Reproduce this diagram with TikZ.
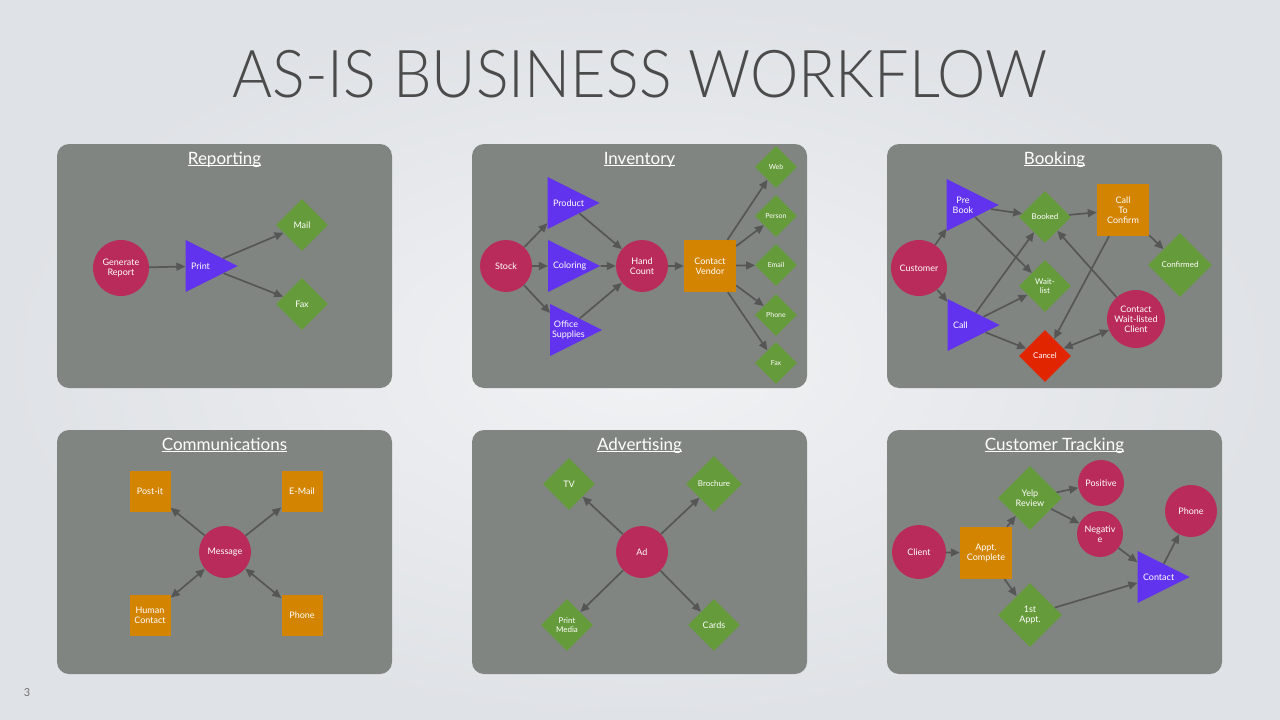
\documentclass[tikz,border=0pt]{standalone}
\usepackage{fontspec}
\setmainfont{Lato}
\newfontfamily\thinfont{Lato Light}
\usepackage{tikz}
\usetikzlibrary{shapes,arrows.meta}
\usetikzlibrary{shapes.geometric}

\definecolor{bgin}{HTML}{F1F2F4}
\definecolor{bgout}{HTML}{DFE2E6}
\definecolor{boxgray}{HTML}{808582}
\definecolor{titlegray}{HTML}{4B4B4B}
\definecolor{arrowgray}{HTML}{565656}
\definecolor{berry}{HTML}{B92B5B}
\definecolor{violet}{HTML}{6233EE}
\definecolor{leaf}{HTML}{659B3A}
\definecolor{amber}{HTML}{D38400}
\definecolor{alarm}{HTML}{E12500}

\begin{document}
\begin{tikzpicture}[x=1pt,y=-1pt]
\tikzstyle{flow}=[line width=1.7pt,draw=arrowgray,-{Triangle[length=9pt,width=8pt]}];
\tikzstyle{flowboth}=[line width=1.7pt,draw=arrowgray,{Triangle[length=9pt,width=8pt]}-{Triangle[length=9pt,width=8pt]}];
\tikzstyle{base}=[text=white,inner sep=0pt,align=center,font=\fontsize{9}{10}\selectfont];
\tikzstyle{circ}=[base,circle,fill=berry,minimum size=52pt];
\tikzstyle{diam}=[base,diamond,fill=leaf,minimum size=52pt];
\tikzstyle{sq}=[base,rectangle,fill=amber,minimum size=52pt];
\tikzstyle{tri}=[base,isosceles triangle,isosceles triangle stretches,fill=violet,minimum width=52pt,minimum height=52pt,text width=28pt,align=left];
\tikzstyle{head}=[text=white,inner sep=0pt,anchor=base,font=\fontsize{17}{19}\selectfont];
\def\tinyfont{\fontsize{7}{8}\selectfont}

\useasboundingbox (0,0) rectangle (1280,720);
\shade[inner color=bgin,outer color=bgout] (0,0) rectangle (1280,720);

\node[anchor=base,text=titlegray,inner sep=0pt,xscale=0.926,transform shape,font=\thinfont\fontsize{66}{70}\selectfont] (title) at (640,97) {AS-IS BUSINESS WORKFLOW};
\node[text=titlegray!80,font=\fontsize{11}{12}\selectfont] (pagenum) at (27,693) {3};

% panels
\foreach \px/\py in {57/144,472/144,887/144,57/430,472/430,887/430}
  \fill[boxgray,rounded corners=12pt] (\px,\py) rectangle ++(335,244);

\node[head] (hrep) at (224.5,164) {Reporting};
\node[head] (hinv) at (639.5,164) {Inventory};
\node[head] (hbook) at (1054.5,164) {Booking};
\node[head] (hcom) at (224.5,450) {Communications};
\node[head] (hadv) at (639.5,450) {Advertising};
\node[head] (htrack) at (1054.5,450) {Customer Tracking};
\foreach \h in {hrep,hinv,hbook,hcom,hadv,htrack}
  \draw[white,line width=0.9pt] ([yshift=-1.8pt]\h.base west) -- ([yshift=-1.8pt]\h.base east);

% Reporting
\node[circ,minimum size=56pt] (genrep) at (121,268) {Generate\\Report};
\node[tri] (print) at (205,266) {Print};
\node[diam] (mail) at (302,225) {Mail};
\node[diam] (fax) at (302,304) {Fax};
\draw[flow] (genrep) -- (print);
\draw[flow] (print) -- (mail);
\draw[flow] (print) -- (fax);

% Inventory
\node[circ] (stock) at (506,266) {Stock};
\node[tri] (product) at (567,203) {Product};
\node[tri] (coloring) at (567,266) {Coloring};
\node[tri,align=center] (office) at (566,330) {Office\\Supplies};
\node[circ] (hand) at (642,266) {Hand\\Count};
\node[sq] (vendor) at (710,266) {Contact\\Vendor};
\node[diam,minimum size=42pt,font=\tinyfont] (web) at (776,167) {Web};
\node[diam,minimum size=42pt,font=\tinyfont] (person) at (776,216) {Person};
\node[diam,minimum size=42pt,font=\tinyfont] (email) at (776,265) {Email};
\node[diam,minimum size=42pt,font=\tinyfont] (phoneinv) at (776,315) {Phone};
\node[diam,minimum size=42pt,font=\tinyfont] (faxinv) at (776,363) {Fax};
\draw[flow] (stock) -- (product);
\draw[flow] (stock) -- (coloring);
\draw[flow] (stock) -- (office);
\draw[flow] (product) -- (hand);
\draw[flow] (coloring) -- (hand);
\draw[flow] (office) -- (hand);
\draw[flow] (hand) -- (vendor);
\foreach \d in {web,person,email,phoneinv,faxinv}
  \draw[flow] (vendor) -- (\d);

% Booking
\node[circ,minimum size=56pt] (customer) at (919,268) {Customer};
\node[tri,align=center] (prebook) at (963,205) {Pre\\Book};
\node[tri] (call) at (967,325) {Call};
\node[diam,font=\fontsize{8}{9}\selectfont] (booked) at (1045,217) {Booked};
\node[diam,font=\fontsize{8}{9}\selectfont] (waitlist) at (1045,286) {Wait-\\list};
\node[diam,fill=alarm,font=\fontsize{8}{9}\selectfont] (cancel) at (1045,356) {Cancel};
\node[sq] (confirmcall) at (1123,210) {Call\\To\\Confirm};
\node[diam,minimum size=64pt,font=\fontsize{8}{9}\selectfont] (confirmed) at (1180,265) {Confirmed};
\node[circ,minimum size=58pt] (waitclient) at (1136,319) {Contact\\Wait-listed\\Client};
\draw[flow] (customer) -- (prebook);
\draw[flow] (customer) -- (call);
\draw[flow] (prebook) -- (booked);
\draw[flow] (prebook) -- (waitlist);
\draw[flow] (call) -- (booked);
\draw[flow] (call) -- (waitlist);
\draw[flow] (call) -- (cancel);
\draw[flow] (booked) -- (confirmcall);
\draw[flow] (confirmcall) -- (confirmed);
\draw[flow] (confirmcall) -- (cancel);
\draw[flow] (waitclient) -- (booked);
\draw[flowboth] (cancel) -- (waitclient);

% Communications
\node[circ] (message) at (225,552) {Message};
\node[sq,minimum size=41pt] (postit) at (150,491) {Post-it};
\node[sq,minimum size=41pt] (mailcom) at (302,491) {E-Mail};
\node[sq,minimum size=41pt] (human) at (150,615) {Human\\Contact};
\node[sq,minimum size=41pt] (phonecom) at (302,615) {Phone};
\draw[flow] (message) -- (postit);
\draw[flow] (message) -- (mailcom);
\draw[flowboth] (message) -- (human);
\draw[flowboth] (message) -- (phonecom);

% Advertising
\node[circ] (ad) at (642,552) {Ad};
\node[diam] (tv) at (569,484) {TV};
\node[diam,minimum size=56pt,font=\fontsize{8}{9}\selectfont] (brochure) at (714,484) {Brochure};
\node[diam,font=\fontsize{8}{9}\selectfont] (printmedia) at (567,625) {Print\\Media};
\node[diam] (cards) at (714,625) {Cards};
\foreach \d in {tv,brochure,printmedia,cards}
  \draw[flow] (ad) -- (\d);

% Customer Tracking
\node[circ,minimum size=54pt] (client) at (919,552) {Client};
\node[sq] (apptdone) at (986,553) {Appt.\\Complete};
\node[diam,minimum size=64pt] (yelp) at (1030,498) {Yelp\\Review};
\node[diam,minimum size=64pt] (firstappt) at (1030,615) {1st\\Appt.};
\node[circ,minimum size=46pt] (positive) at (1101,483) {Positive};
\node[circ,minimum size=46pt] (negative) at (1100,534) {Negativ\\e};
\node[tri] (contact) at (1157,577) {Contact};
\node[circ] (phonetrack) at (1191,511) {Phone};
\draw[flow] (client) -- (apptdone);
\draw[flow] (apptdone) -- (yelp);
\draw[flow] (apptdone) -- (firstappt);
\draw[flow] (yelp) -- (positive);
\draw[flow] (yelp) -- (negative);
\draw[flow] (negative) -- (contact);
\draw[flow] (firstappt) -- (contact);
\draw[flow] (contact) -- (phonetrack);

\end{tikzpicture}
\end{document}
